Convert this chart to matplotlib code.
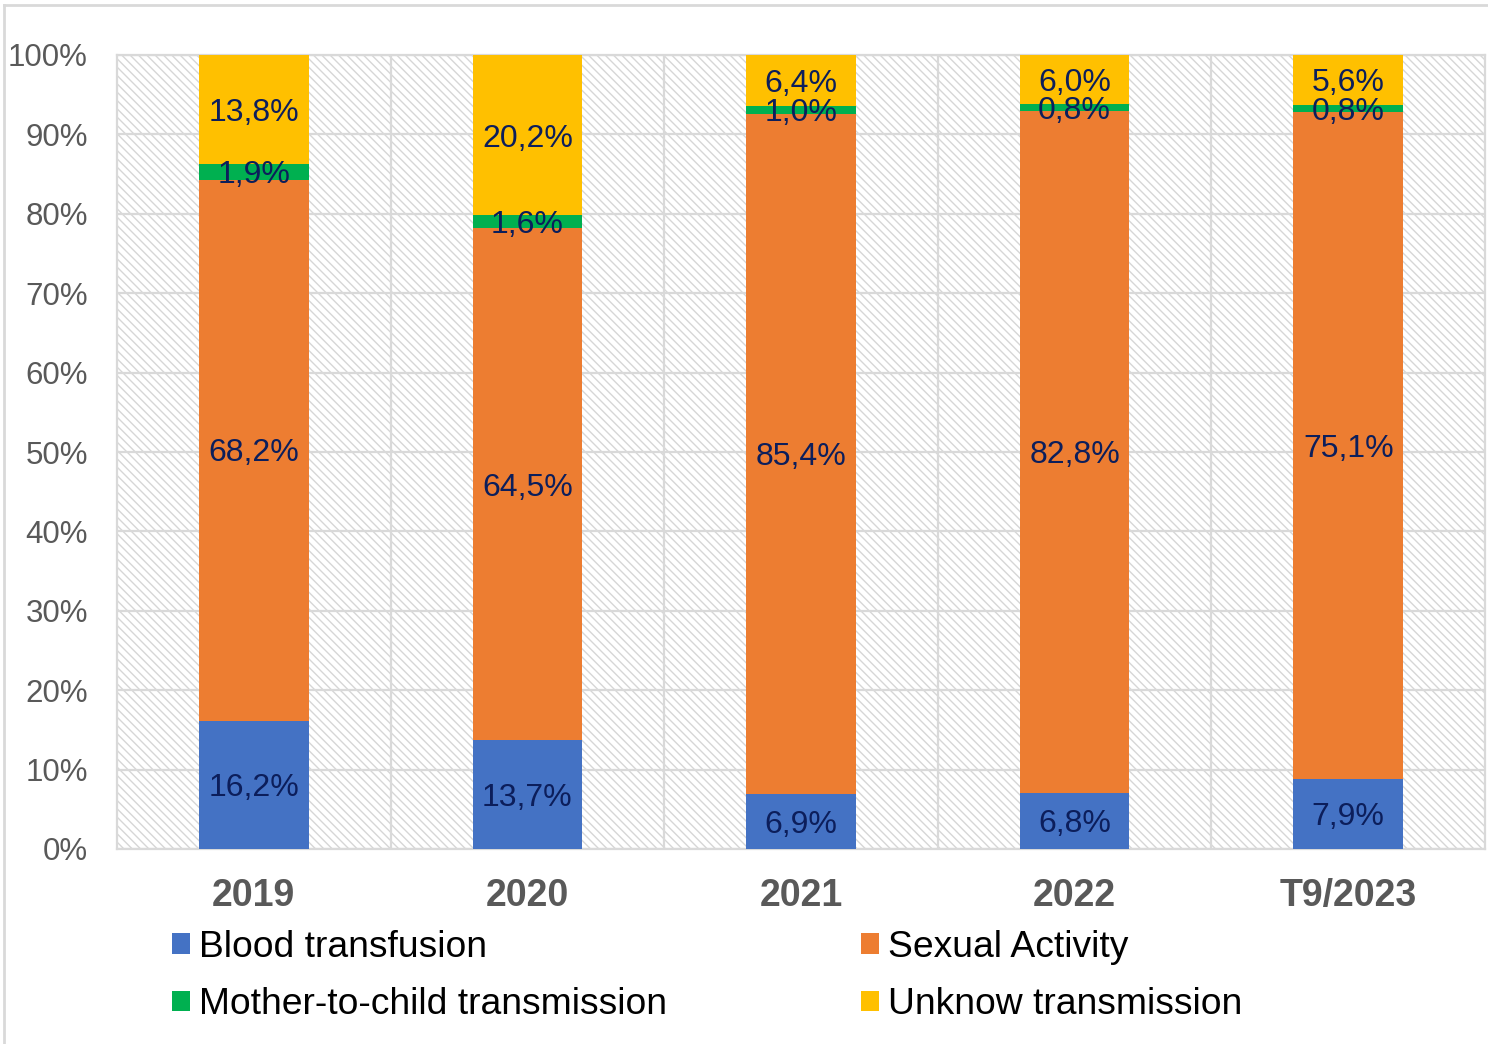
import matplotlib
matplotlib.use("Agg")
import matplotlib.pyplot as plt
import numpy as np
from matplotlib.patches import Rectangle, Patch
from matplotlib.lines import Line2D

plt.rcParams["font.family"] = ["Liberation Sans", "DejaVu Sans"]
plt.rcParams["hatch.linewidth"] = 1.0

categories = ["2019", "2020", "2021", "2022", "T9/2023"]
series = ["Blood transfusion", "Sexual Activity",
          "Mother-to-child transmission", "Unknow transmission"]
blood = [16.2, 13.7, 6.9, 6.8, 7.9]
sexual = [68.2, 64.5, 85.4, 82.8, 75.1]
mother = [1.9, 1.6, 1.0, 0.8, 0.8]
unknown = [13.8, 20.2, 6.4, 6.0, 5.6]
colors = ["#4472C4", "#ED7D31", "#00B050", "#FFC000"]

GRID = "#d9d9d9"
LABEL = "#0C1E5B"

fig = plt.figure(figsize=(14.88, 10.44), dpi=100)
ax = fig.add_axes([117 / 1488, 1 - 849 / 1044, (1485 - 117) / 1488, (849 - 55) / 1044])

# hatched plot-area background
ax.add_patch(Rectangle((0, 0), 1, 1, transform=ax.transAxes, facecolor="white",
                       edgecolor="#d6d6d6", hatch="\\\\\\\\", linewidth=0, zorder=0))

data = np.array([blood, sexual, mother, unknown])
totals = data.sum(axis=0)
share = data / totals * 100
x = np.arange(len(categories))
bottom = np.zeros(len(categories))
for vals, raw, col in zip(share, data, colors):
    ax.bar(x, vals, width=0.4, bottom=bottom, color=col, linewidth=0, zorder=3)
    for xi, b, v, r in zip(x, bottom, vals, raw):
        ax.annotate(f"{r:.1f}%".replace(".", ","), (xi, b + v / 2), xytext=(0, -2.5),
                    textcoords="offset points", ha="center", va="center",
                    fontsize=23, color=LABEL, zorder=4)
    bottom += vals

ax.set_xlim(-0.5, len(categories) - 0.5)
ax.set_ylim(0, 100)
ax.set_yticks(np.arange(0, 101, 10))
ax.set_yticklabels([f"{v}%" for v in range(0, 101, 10)], fontsize=22.5, color="#595959")
ax.set_xticks(x)
ax.set_xticklabels(categories, fontsize=27, fontweight="bold", color="#595959")
ax.set_xticks(np.arange(0.5, len(categories) - 1, 1), minor=True)
ax.tick_params(axis="y", length=0, pad=21)
ax.tick_params(axis="x", length=0, pad=21)
ax.tick_params(axis="x", which="minor", length=0)
ax.grid(axis="y", color=GRID, linewidth=1.6, zorder=1)
ax.grid(axis="x", which="minor", color=GRID, linewidth=1.6, zorder=1)
ax.set_axisbelow(True)
for s in ax.spines.values():
    s.set_color(GRID)
    s.set_linewidth(1.6)

handles = [Patch(facecolor=c, edgecolor="none", label=l) for c, l in zip(colors, series)]
order = [0, 2, 1, 3]
fig.legend([handles[i] for i in order], [series[i] for i in order],
           loc="upper left", bbox_to_anchor=(172 / 1488, 1 - 930 / 1044), ncol=2,
           frameon=False, fontsize=26.8, handlelength=0.48, handleheight=0.48,
           handletextpad=0.25, columnspacing=5.2, labelspacing=0.6, borderpad=0,
           borderaxespad=0)

# outer chart border (left and top)
fig.add_artist(Line2D([4 / 1488, 4 / 1488], [0, 1 - 5 / 1044], color=GRID, linewidth=2,
                      transform=fig.transFigure))
fig.add_artist(Line2D([4 / 1488, 1], [1 - 5 / 1044, 1 - 5 / 1044], color=GRID, linewidth=2,
                      transform=fig.transFigure))

fig.savefig("out.png", dpi=100, facecolor="white")
